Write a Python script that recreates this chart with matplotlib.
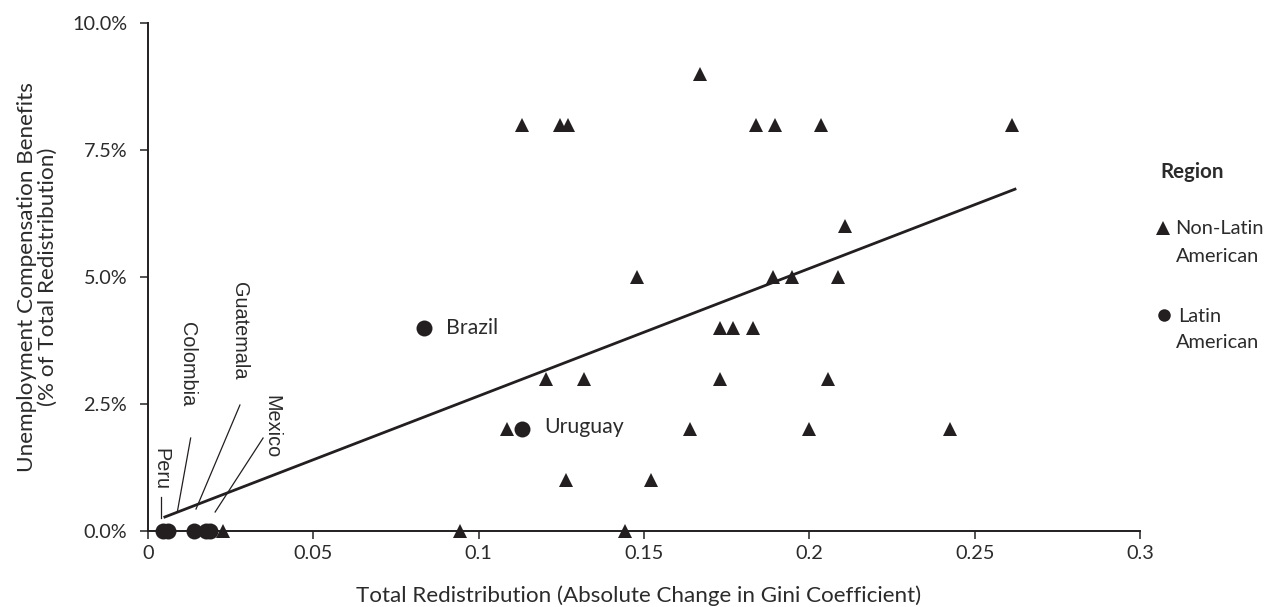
import matplotlib
matplotlib.use("Agg")
import matplotlib.pyplot as plt
from matplotlib.lines import Line2D
import numpy as np

plt.rcParams['font.family'] = ['Lato', 'DejaVu Sans']

# Non-Latin American countries (x: absolute change in Gini, y: % of total redistribution)
nonlatin_x = [0.1131, 0.1246, 0.1271, 0.1839, 0.1897, 0.2036, 0.2613,
              0.1670,
              0.1480, 0.1890, 0.1948, 0.2087,
              0.2108,
              0.1730, 0.1770, 0.1830,
              0.1204, 0.1320, 0.1730, 0.2057,
              0.1086, 0.1640, 0.2000, 0.2426,
              0.1264, 0.1520,
              0.0944, 0.1443, 0.0227]
nonlatin_y = [8, 8, 8, 8, 8, 8, 8,
              9,
              5, 5, 5, 5,
              6,
              4, 4, 4,
              3, 3, 3, 3,
              2, 2, 2, 2,
              1, 1,
              0, 0, 0]

# Latin American countries
latin_names = ["Brazil", "Uruguay", "Peru", "Peru", "Colombia", "Guatemala", "Mexico"]
latin_x = [0.0835, 0.1131, 0.0045, 0.0060, 0.0139, 0.0175, 0.0188]
latin_y = [4, 2, 0, 0, 0, 0, 0]

# Fitted trend line
fit_x = [0.0051, 0.2622]
fit_intercept = 0.148
fit_slope = 25.1

x_ticks = [0, 0.05, 0.1, 0.15, 0.2, 0.25, 0.3]
x_ticklabels = ["0", "0.05", "0.1", "0.15", "0.2", "0.25", "0.3"]
y_ticks = [0, 2.5, 5, 7.5, 10]
y_ticklabels = ["0.0%", "2.5%", "5.0%", "7.5%", "10.0%"]

legend_title = "Region"
legend_labels = [("Non-Latin", "American"), ("Latin", "American")]

W, H = 1264, 607
fig = plt.figure(figsize=(W / 100, H / 100), dpi=100)
ax = fig.add_axes([148 / W, 1 - 531 / H, 992 / W, 508 / H])

col = '#231f20'
txt = '#2b2b2b'
ax.plot(nonlatin_x, nonlatin_y, linestyle='none', marker='^', markersize=10.5,
        color=col, markeredgewidth=0, clip_on=False, zorder=3)
ax.plot(latin_x, latin_y, linestyle='none', marker='o', markersize=11.5,
        color=col, markeredgewidth=0, clip_on=False, zorder=3)

fx = np.array(fit_x)
ax.plot(fx, fit_intercept + fit_slope * fx, color=col, lw=2.0, zorder=2)

ax.set_xlim(0, 0.3)
ax.set_ylim(0, 10)
ax.set_xticks(x_ticks)
ax.set_xticklabels(x_ticklabels)
ax.set_yticks(y_ticks)
ax.set_yticklabels(y_ticklabels)
for s in ['top', 'right']:
    ax.spines[s].set_visible(False)
for s in ['left', 'bottom']:
    ax.spines[s].set_color(col)
    ax.spines[s].set_linewidth(1.4)
ax.tick_params(axis='both', direction='out', length=6, width=1.3, color='#444444',
               labelsize=14.3, labelcolor=txt)
ax.tick_params(axis='x', pad=4)
ax.tick_params(axis='y', pad=9)

ax.set_xlabel("Total Redistribution (Absolute Change in Gini Coefficient)",
              fontsize=16.1, color=txt, va='top')
ax.xaxis.set_label_coords(0.495, -0.108)
ax.set_ylabel("Unemployment Compensation Benefits\n(% of Total Redistribution)",
              fontsize=16.2, color=txt, linespacing=1.05)
ax.yaxis.set_label_coords(-0.091, 0.5)

# Country annotations
ax.text(latin_x[0] + 0.0067, latin_y[0], latin_names[0], fontsize=15.3, color=txt, va='center', ha='left')
ax.text(latin_x[1] + 0.0067, latin_y[1] + 0.05, latin_names[1], fontsize=15.3, color=txt, va='center', ha='left')

lab_font = dict(fontsize=14.3, color=txt, rotation=-90, family='Liberation Sans',
                va='top', ha='center')
ax.text(0.0039, 1.63, latin_names[2], **lab_font)
ax.plot([0.00384, 0.00384], [0.256, 0.67], color=col, lw=0.9)
ax.text(0.0118, 4.11, latin_names[4], **lab_font)
ax.plot([0.0129, 0.00886], [1.83, 0.374], color=col, lw=0.9)
ax.text(0.0278, 4.90, latin_names[5], **lab_font)
ax.plot([0.0278, 0.01452], [2.48, 0.433], color=col, lw=0.9)
ax.text(0.0375, 2.68, latin_names[6], **lab_font)
ax.plot([0.0348, 0.0203], [1.83, 0.374], color=col, lw=0.9)

# Legend (drawn manually so markers align with first label line)
def fx_(px):
    return px / W

def fy_(py):
    return 1 - py / H

lf = 14.4
fig.text(fx_(1160), fy_(172), legend_title, fontsize=14.8, weight='bold', color=txt,
         ha='left', va='center')
fig.add_artist(Line2D([fx_(1163)], [fy_(228)], transform=fig.transFigure, linestyle='none',
                      marker='^', markersize=10.5, color=col, markeredgewidth=0))
fig.text(fx_(1175), fy_(229), legend_labels[0][0], fontsize=lf, color=txt, ha='left', va='center')
fig.text(fx_(1176), fy_(256), legend_labels[0][1], fontsize=lf, color=txt, ha='left', va='center')
fig.add_artist(Line2D([fx_(1164)], [fy_(315)], transform=fig.transFigure, linestyle='none',
                      marker='o', markersize=9, color=col, markeredgewidth=0))
fig.text(fx_(1178), fy_(316), legend_labels[1][0], fontsize=lf, color=txt, ha='left', va='center')
fig.text(fx_(1176), fy_(342), legend_labels[1][1], fontsize=lf, color=txt, ha='left', va='center')

fig.savefig("out.png", dpi=100)
